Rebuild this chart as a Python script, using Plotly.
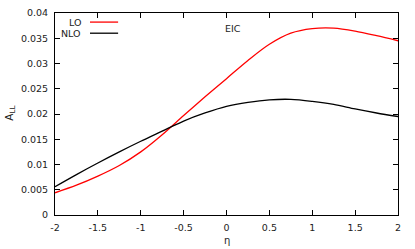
import plotly.graph_objects as go

eta = [-2.0, -1.75, -1.5, -1.25, -1.0, -0.75, -0.5, -0.25, 0.0, 0.25, 0.5, 0.75, 1.0, 1.25, 1.5, 1.75, 2.0]
lo = [0.0044, 0.0059, 0.0077, 0.0098, 0.0125, 0.0159, 0.0197, 0.0234, 0.0270, 0.0306, 0.0338, 0.0360, 0.0369, 0.0370, 0.0364, 0.0355, 0.0345]
nlo = [0.0056, 0.0080, 0.0103, 0.0125, 0.0146, 0.0166, 0.0186, 0.0202, 0.0215, 0.0223, 0.0228, 0.0229, 0.0225, 0.0219, 0.0210, 0.0202, 0.0195]

x_ticks = [-2, -1.5, -1, -0.5, 0, 0.5, 1, 1.5, 2]
x_labels = ["-2", "-1.5", "-1", "-0.5", "0", "0.5", "1", "1.5", "2"]
y_ticks = [0, 0.005, 0.01, 0.015, 0.02, 0.025, 0.03, 0.035, 0.04]
y_labels = ["0", "0.005", "0.01", "0.015", "0.02", "0.025", "0.03", "0.035", "0.04"]

FONT = "DejaVu Sans"
TXT = "#222222"

fig = go.Figure()
fig.add_trace(go.Scatter(x=eta, y=lo, mode="lines", line=dict(color="#ff0000", width=1.3, shape="spline", smoothing=0.9), showlegend=False))
fig.add_trace(go.Scatter(x=eta, y=nlo, mode="lines", line=dict(color="#000000", width=1.3, shape="spline", smoothing=0.9), showlegend=False))

axis_common = dict(showgrid=False, zeroline=False, showline=True, linecolor="#000000", linewidth=1,
                   mirror="allticks", ticks="inside", ticklen=5, tickcolor="#000000", tickwidth=1,
                   automargin=False, tickfont=dict(family=FONT, size=9.5, color=TXT))

fig.update_xaxes(range=[-2, 2], tickvals=x_ticks, ticktext=x_labels, ticklabelstandoff=4, **axis_common)
fig.update_yaxes(range=[0, 0.04], tickvals=y_ticks, ticktext=y_labels, ticklabelstandoff=4, **axis_common)

# axis titles
fig.add_annotation(xref="paper", yref="paper", x=0.5, y=-0.125, text="η", showarrow=False,
                   xanchor="center", yanchor="middle", font=dict(family=FONT, size=10, color=TXT))
fig.add_annotation(xref="paper", xanchor="center", yref="paper", x=-0.132, y=0.505, text="A<sub>LL</sub>",
                   showarrow=False, textangle=-90, yanchor="middle", font=dict(family=FONT, size=10.5, color=TXT))

# legend (gnuplot style: label left of sample)
leg = [("LO", "#ff0000", 0.045), ("NLO", "#000000", 0.10)]
for name, col, yy in leg:
    fig.add_annotation(xref="paper", yref="paper", x=0.082, y=1 - yy, text=name, showarrow=False,
                       xanchor="right", yanchor="middle", font=dict(family=FONT, size=9.5, color=TXT))
    fig.add_shape(type="line", xref="paper", yref="paper", x0=0.102, x1=0.184, y0=1 - yy, y1=1 - yy,
                  line=dict(color=col, width=1.3))

fig.add_annotation(xref="paper", yref="paper", x=0.52, y=0.925, text="EIC", showarrow=False,
                   xanchor="center", yanchor="middle", font=dict(family=FONT, size=9.5, color=TXT))

fig.update_layout(width=415, height=249, margin=dict(l=55, r=17, t=13, b=34),
                  paper_bgcolor="white", plot_bgcolor="white")

fig.write_html("out.html", config={"displayModeBar": False},
               post_script="document.body.style.margin='0';document.body.style.overflow='hidden';")
